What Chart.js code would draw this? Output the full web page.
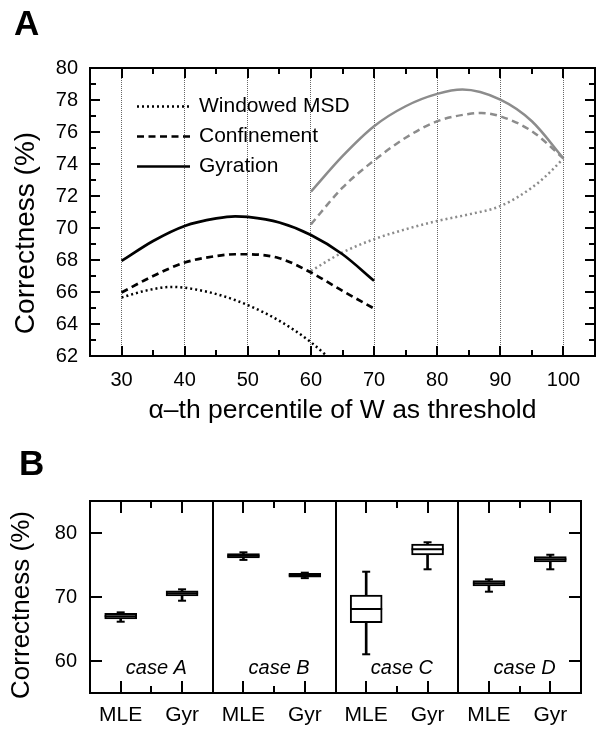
<!DOCTYPE html>
<html><head><meta charset="utf-8">
<script src="https://cdn.jsdelivr.net/npm/chart.js@4.4.0/dist/chart.umd.min.js"></script>
<style>
html,body{margin:0;padding:0;background:#fff;width:599px;height:743px;overflow:hidden;}
#wrap{position:relative;width:599px;height:743px;font-family:"Liberation Sans",Arial,sans-serif;}
canvas{position:absolute;left:0;}
#cA{top:0}
#cB{top:430px}
.pl{position:absolute;font-weight:bold;font-size:35px;line-height:1;color:#000;}
</style></head><body>
<div id="wrap">
<canvas id="cA" width="599" height="430"></canvas>
<canvas id="cB" width="599" height="313"></canvas>
<div class="pl" style="left:14px;top:5px">A</div>
<div class="pl" style="left:19px;top:445px">B</div>
</div>
<script>
// ---------- Panel A data ----------
const xTickLabelsA = [30,40,50,60,70,80,90,100];
const yTickLabelsA = [62,64,66,68,70,72,74,76,78,80];
const legendLabels = ['Windowed MSD','Confinement','Gyration'];
const yTitleA = 'Correctness (%)';
const xTitleA = 'α–th percentile of W as threshold';

const msdBlackX  = [30,34,38,42,46,50,55,60,65];
const msdBlack   = [65.66,66.10,66.32,66.14,65.76,65.18,64.20,62.86,61.10];
const confBlackX = [30,35,40,45,48,50,55,60,65,70];
const confBlack  = [65.97,67.00,67.84,68.25,68.36,68.36,68.11,67.22,66.07,64.97];
const gyrBlackX  = [30,35,40,45,48,50,55,60,65,70];
const gyrBlack   = [67.94,69.19,70.13,70.60,70.73,70.69,70.34,69.56,68.36,66.70];

const msdGrayX   = [60,65,70,75,80,85,90,95,97.5,100];
const msdGray    = [67.32,68.47,69.30,69.92,70.44,70.85,71.37,72.52,73.35,74.35];
const confGrayX  = [60,65,70,75,80,85,87,90,95,100];
const confGray   = [70.23,72.52,74.22,75.64,76.67,77.13,77.19,76.98,76.05,74.35];
const gyrGrayX   = [60,65,70,75,80,84,90,95,100];
const gyrGray    = [72.27,74.49,76.36,77.61,78.38,78.65,78.02,76.67,74.35];

// ---------- Panel B data ----------
const cases   = ['case A','case B','case C','case D'];
const methods = ['MLE','Gyr'];
const yTickLabelsB = [60,70,80];
const yTitleB = 'Correctness (%)';
// order: A-MLE, A-Gyr, B-MLE, B-Gyr, C-MLE, C-Gyr, D-MLE, D-Gyr
const whiskerLow  = [66.14,69.42,75.80,72.95,61.05,74.33,70.83,74.33];
const boxQ1       = [66.56,70.16,76.10,73.08,65.98,76.56,71.72,75.47];
const boxMedian   = [67.00,70.57,76.45,73.40,68.13,77.45,72.15,75.89];
const boxQ3       = [67.45,70.98,76.80,73.70,70.31,78.28,72.55,76.30];
const whiskerHigh = [67.60,71.20,76.98,73.80,73.95,78.55,72.76,76.60];

const FONT = '"Liberation Sans", Arial, sans-serif';
Chart.defaults.font.family = FONT;
Chart.defaults.color = '#000';

const pts = (xs, ys) => xs.map((x,i)=>({x:x, y:ys[i]}));
const GRAY = '#8c8c8c';
const DOT = [2,3], DASH = [7,4.5];

function lineDs(label, xs, ys, color, dash, w){
  return {label, data: pts(xs, ys), borderColor: color, borderDash: dash, borderWidth: w,
    pointRadius: 0, fill: false, cubicInterpolationMode: 'monotone', borderCapStyle: 'butt'};
}

function vTick(ctx, px, y0, len){ ctx.fillRect(Math.round(px) - 1, Math.min(y0, y0 + len), 2, Math.abs(len)); }
function hTick(ctx, py, x0, len){ ctx.fillRect(Math.min(x0, x0 + len), Math.round(py) - 1, Math.abs(len), 2); }

function rotatedTitle(ctx, text, size, cx, cy){
  ctx.save();
  ctx.font = size + 'px ' + FONT;
  ctx.fillStyle = '#000'; ctx.textAlign = 'center'; ctx.textBaseline = 'middle';
  ctx.translate(cx, cy); ctx.rotate(-Math.PI / 2);
  ctx.fillText(text, 0, 0);
  ctx.restore();
}

const frameA = {
  id: 'frameA',
  afterDraw(chart){
    const {ctx, chartArea: a, scales: {x, y}} = chart;
    ctx.save();
    ctx.setLineDash([]);
    ctx.strokeStyle = '#000'; ctx.fillStyle = '#000'; ctx.lineWidth = 2;
    ctx.strokeRect(a.left, a.top, a.right - a.left, a.bottom - a.top);
    for (let v = 30; v <= 100; v += 5){
      const px = x.getPixelForValue(v), len = (v % 10 === 0) ? 10 : 6;
      vTick(ctx, px, a.bottom, -len); vTick(ctx, px, a.top, len);
    }
    for (let v = 62; v <= 80; v += 1){
      const py = y.getPixelForValue(v), len = (v % 2 === 0) ? 10 : 6;
      hTick(ctx, py, a.left, len); hTick(ctx, py, a.right, -len);
    }
    // legend
    ctx.font = '21px ' + FONT;
    ctx.textBaseline = 'middle'; ctx.textAlign = 'left';
    legendLabels.forEach((lab, i) => {
      const ds = chart.data.datasets.find(d => d.label === lab);
      const ly = a.top + 38.5 + i * 30, lx = a.left + 47;
      ctx.save();
      ctx.strokeStyle = ds.borderColor; ctx.lineWidth = ds.borderWidth;
      ctx.setLineDash(ds.borderDash || []);
      ctx.beginPath(); ctx.moveTo(lx, ly); ctx.lineTo(lx + 53, ly); ctx.stroke();
      ctx.restore();
      ctx.fillText(lab, lx + 62, ly);
    });
    rotatedTitle(ctx, yTitleA, 28, 26, (a.top + a.bottom) / 2 + 21);
    ctx.restore();
  }
};

new Chart(document.getElementById('cA'), {
  type: 'line',
  data: { datasets: [
    lineDs('Windowed MSD', msdBlackX, msdBlack, '#000', DOT, 2.5),
    lineDs('Confinement', confBlackX, confBlack, '#000', DASH, 2.7),
    lineDs('Gyration', gyrBlackX, gyrBlack, '#000', [], 2.7),
    lineDs('Windowed MSD (gray)', msdGrayX, msdGray, GRAY, DOT, 2.5),
    lineDs('Confinement (gray)', confGrayX, confGray, GRAY, DASH, 2.5),
    lineDs('Gyration (gray)', gyrGrayX, gyrGray, GRAY, [], 2.5)
  ]},
  options: {
    responsive: false, animation: false, devicePixelRatio: 1,
    layout: { padding: { top: 68, right: 4, left: 0, bottom: 0 } },
    plugins: { legend: { display: false }, tooltip: { enabled: false } },
    scales: {
      x: { type: 'linear', min: 25, max: 105,
        afterBuildTicks: s => { s.ticks = xTickLabelsA.map(v => ({value: v})); },
        afterFit: s => { s.height = 74; },
        ticks: { font: { size: 20 }, padding: 12, maxRotation: 0, autoSkip: false },
        grid: { display: true, color: 'rgba(0,0,0,0.6)', lineWidth: 1, drawTicks: false },
        border: { display: false, dash: [1,1] },
        title: { display: true, text: xTitleA, font: { size: 26.5 }, padding: { top: 0, bottom: 3 } }
      },
      y: { type: 'linear', min: 62, max: 80,
        afterBuildTicks: s => { s.ticks = yTickLabelsA.map(v => ({value: v})); },
        afterFit: s => { s.width = 90; },
        ticks: { font: { size: 20 }, padding: 12 },
        grid: { display: false, drawTicks: false },
        border: { display: false }
      }
    }
  },
  plugins: [frameA]
});

// ---------- Panel B ----------
const posB = [];
cases.forEach((c, ci) => methods.forEach((m, mi) => posB.push(ci * 2 + mi + 0.5)));

const frameB = {
  id: 'frameB',
  afterDraw(chart){
    const {ctx, chartArea: a, scales: {x, y}} = chart;
    ctx.save();
    ctx.setLineDash([]);
    ctx.strokeStyle = '#000'; ctx.fillStyle = '#000'; ctx.lineWidth = 2;
    ctx.strokeRect(a.left, a.top, a.right - a.left, a.bottom - a.top);
    cases.forEach((c, ci) => {
      [0.5, 1, 1.5].forEach(o => {
        const px = x.getPixelForValue(ci * 2 + o), len = (o === 1) ? 7 : 12;
        vTick(ctx, px, a.bottom, -len); vTick(ctx, px, a.top, len);
      });
      if (ci > 0) { const px = x.getPixelForValue(ci * 2); vTick(ctx, px, a.top, a.bottom - a.top); }
    });
    yTickLabelsB.forEach(v => {
      const py = y.getPixelForValue(v);
      hTick(ctx, py, a.left, 12); hTick(ctx, py, a.right, -12);
    });
    ctx.font = 'italic 20px ' + FONT;
    ctx.textAlign = 'center'; ctx.textBaseline = 'alphabetic';
    cases.forEach((c, ci) => {
      ctx.fillText(c, x.getPixelForValue(ci * 2 + 1) + 5, a.bottom - 19.5);
    });
    rotatedTitle(ctx, yTitleB, 26, 22, (a.top + a.bottom) / 2 + 8);
    ctx.restore();
  }
};

new Chart(document.getElementById('cB'), {
  type: 'bar',
  data: { datasets: [
    { label: 'whiskers', type: 'bar', order: 4, grouped: false, barThickness: 2,
      data: posB.map((p,i)=>({x:p, y:[whiskerLow[i], whiskerHigh[i]]})),
      backgroundColor: '#000', borderWidth: 0 },
    { label: 'boxes', type: 'bar', order: 3, grouped: false, barThickness: 32,
      data: posB.map((p,i)=>({x:p, y:[boxQ1[i], boxQ3[i]]})),
      backgroundColor: '#fff', borderColor: '#000', borderWidth: 2, borderSkipped: false },
    { label: 'median', type: 'scatter', order: 2, showLine: false,
      data: posB.map((p,i)=>({x:p, y:boxMedian[i]})),
      pointStyle: 'line', pointRadius: 16, pointBorderWidth: 2, borderColor: '#000', pointBorderColor: '#000' },
    { label: 'caps', type: 'scatter', order: 1, showLine: false,
      data: posB.map((p,i)=>({x:p, y:whiskerLow[i]})).concat(posB.map((p,i)=>({x:p, y:whiskerHigh[i]}))),
      pointStyle: 'line', pointRadius: 4, pointBorderWidth: 2, borderColor: '#000', pointBorderColor: '#000' }
  ]},
  options: {
    responsive: false, animation: false, devicePixelRatio: 1,
    layout: { padding: { top: 71, right: 5, left: 0, bottom: 0 } },
    plugins: { legend: { display: false }, tooltip: { enabled: false } },
    scales: {
      x: { type: 'linear', min: 0, max: 8, offset: false,
        afterBuildTicks: s => { s.ticks = posB.map(v => ({value: v})); },
        afterFit: s => { s.height = 50; },
        ticks: { font: { size: 21 }, padding: 10, maxRotation: 0, autoSkip: false,
          callback: (v, i) => methods[i % 2] },
        grid: { display: false, drawTicks: false, offset: false },
        border: { display: false }
      },
      y: { type: 'linear', min: 55, max: 85,
        afterBuildTicks: s => { s.ticks = yTickLabelsB.map(v => ({value: v})); },
        afterFit: s => { s.width = 90; },
        ticks: { font: { size: 20 }, padding: 13 },
        grid: { display: false, drawTicks: false },
        border: { display: false }
      }
    }
  },
  plugins: [frameB]
});
</script>
</body></html>
